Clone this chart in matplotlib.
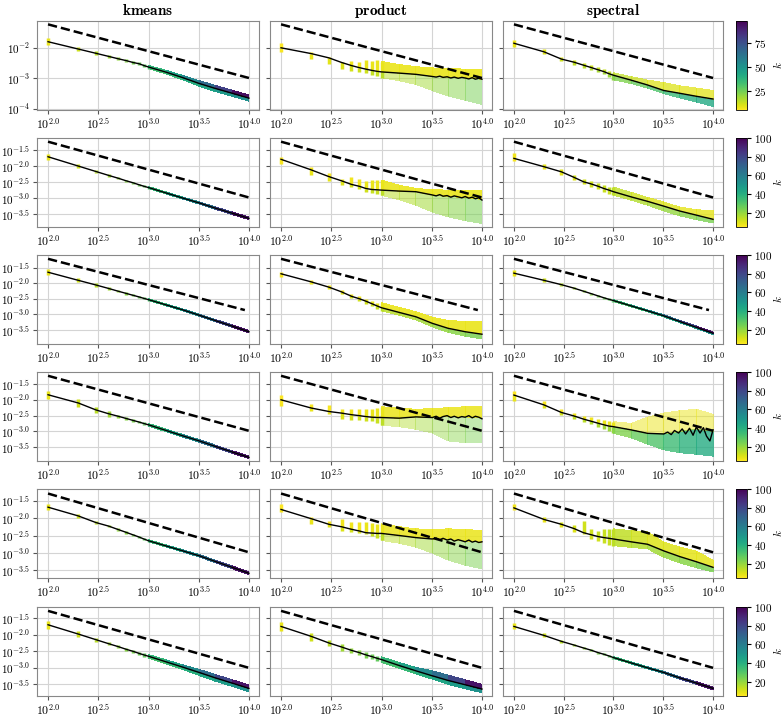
import numpy as np
import matplotlib
matplotlib.use('Agg')
import matplotlib.pyplot as plt
from matplotlib.collections import LineCollection, PolyCollection
from matplotlib.colors import Normalize
from matplotlib.cm import ScalarMappable
from matplotlib.ticker import FuncFormatter

plt.rcParams['mathtext.fontset'] = 'cm'

# Data (log10 of the error)
methods = ['kmeans', 'product', 'spectral']
n_vals = [100, 200, 300, 400, 500, 600, 700, 800, 900, 1000, 1500, 2200, 3200, 4600, 6800, 10000]
n_tail = [3200, 3500, 3800, 4100, 4500, 4900, 5300, 5800, 6300, 6800, 7400, 8000, 8600, 9300, 10000]

# colour (k) profiles along n
K_SQRT = [8, 12, 15, 18, 20, 22, 24, 26, 28, 30, 37, 45, 55, 66, 80, 95]
K_SQRT_LO = [8, 12, 15, 18, 20, 22, 24, 26, 28, 30, 33, 36, 40, 44, 48, 52]
K_YELLOW = [5, 6, 6, 7, 7, 7, 8, 8, 8, 8, 8, 8, 8, 8, 8, 8]
K_PROD_LO = [6, 8, 9, 10, 11, 12, 12, 13, 13, 14, 15, 16, 18, 20, 22, 24]
K_SPEC_HI = [7, 9, 10, 11, 12, 12, 13, 13, 14, 14, 14, 12, 10, 10, 9, 9]
K_SPEC_LO = [8, 10, 12, 14, 15, 16, 17, 18, 19, 20, 23, 27, 31, 35, 39, 42]

# half-width of the narrow clouds
SPREAD_TIGHT = [0.09, 0.06, 0.05, 0.04, 0.035, 0.035, 0.03, 0.03, 0.03, 0.03, 0.03, 0.03, 0.035, 0.035, 0.04, 0.04]
SPREAD_WIDE = [0.12, 0.08, 0.06, 0.05, 0.05, 0.05, 0.05, 0.05, 0.05, 0.05, 0.06, 0.07, 0.09, 0.10, 0.10, 0.10]
SPREAD_R4 = [0.12, 0.13, 0.10, 0.09, 0.05, 0.05, 0.04, 0.04, 0.04, 0.04, 0.04, 0.04, 0.04, 0.04, 0.04, 0.04]

# row 1
r1_kmeans_mid = [-1.80, -2.04, -2.18, -2.28, -2.36, -2.42, -2.48, -2.52, -2.58, -2.63, -2.80, -2.98, -3.17, -3.33, -3.49, -3.65]
r1_product_mid = [-2.00, -2.19, -2.33, -2.48, -2.58, -2.65, -2.70, -2.74, -2.77, -2.79, -2.83, -2.87, -2.94, -2.97, -2.99, -3.03]
r1_product_hi = [-1.85, -2.13, -2.30, -2.45, -2.44, -2.48, -2.41, -2.42, -2.40, -2.45, -2.55, -2.62, -2.66, -2.68, -2.70, -2.70]
r1_product_lo = [-2.13, -2.38, -2.52, -2.70, -2.76, -2.80, -2.82, -2.88, -2.93, -2.98, -3.08, -3.20, -3.40, -3.58, -3.72, -3.86]
r1_product_tail = [-2.94, -2.96, -2.93, -2.97, -2.95, -2.99, -2.96, -3.00, -2.97, -2.99, -3.02, -2.98, -3.03, -3.00, -3.03]
r1_spectral_mid = [-1.85, -2.13, -2.37, -2.47, -2.57, -2.65, -2.72, -2.78, -2.85, -2.90, -3.06, -3.22, -3.40, -3.49, -3.59, -3.68]
r1_spectral_hi = [-1.75, -2.05, -2.29, -2.39, -2.49, -2.57, -2.64, -2.70, -2.77, -2.82, -2.95, -3.06, -3.14, -3.25, -3.32, -3.40]
r1_spectral_lo = [-1.96, -2.20, -2.44, -2.55, -2.65, -2.73, -2.80, -2.87, -2.95, -3.05, -3.17, -3.32, -3.50, -3.64, -3.78, -3.92]

# row 2
r2_kmeans_mid = [-1.71, -2.00, -2.17, -2.29, -2.38, -2.46, -2.52, -2.58, -2.63, -2.67, -2.84, -3.00, -3.15, -3.31, -3.47, -3.63]
r2_product_mid = [-1.79, -2.12, -2.33, -2.46, -2.57, -2.63, -2.70, -2.73, -2.74, -2.75, -2.78, -2.80, -2.90, -2.95, -2.98, -3.04]
r2_product_hi = [-1.71, -2.02, -2.23, -2.39, -2.35, -2.40, -2.47, -2.45, -2.44, -2.44, -2.60, -2.70, -2.74, -2.75, -2.75, -2.75]
r2_product_lo = [-1.95, -2.28, -2.46, -2.60, -2.65, -2.72, -2.80, -2.85, -2.88, -2.91, -3.05, -3.22, -3.43, -3.58, -3.70, -3.79]
r2_product_tail = [-2.90, -2.93, -2.89, -2.94, -2.92, -2.97, -2.93, -2.96, -2.99, -2.95, -3.00, -2.97, -3.02, -2.99, -3.06]
r2_spectral_mid = [-1.76, -2.02, -2.18, -2.35, -2.49, -2.56, -2.63, -2.70, -2.75, -2.80, -2.96, -3.10, -3.25, -3.40, -3.53, -3.66]
r2_spectral_hi = [-1.60, -1.95, -2.10, -2.27, -2.40, -2.47, -2.54, -2.60, -2.64, -2.66, -2.82, -2.98, -3.12, -3.28, -3.36, -3.40]
r2_spectral_lo = [-1.83, -2.09, -2.27, -2.43, -2.57, -2.64, -2.72, -2.80, -2.86, -2.91, -3.06, -3.22, -3.40, -3.55, -3.67, -3.77]

# row 3
r3_kmeans_mid = [-1.65, -1.91, -2.06, -2.17, -2.26, -2.33, -2.39, -2.44, -2.49, -2.53, -2.70, -2.86, -3.03, -3.20, -3.38, -3.56]
r3_product_mid = [-1.70, -1.96, -2.13, -2.28, -2.42, -2.50, -2.58, -2.66, -2.73, -2.79, -2.94, -3.08, -3.29, -3.45, -3.56, -3.64]
r3_product_hi = [-1.63, -1.90, -2.07, -2.21, -2.34, -2.42, -2.50, -2.57, -2.63, -2.63, -2.78, -2.92, -3.10, -3.20, -3.23, -3.24]
r3_product_lo = [-1.79, -2.02, -2.19, -2.35, -2.49, -2.58, -2.66, -2.74, -2.82, -2.89, -3.03, -3.18, -3.40, -3.58, -3.70, -3.79]
r3_spectral_mid = [-1.68, -1.91, -2.05, -2.16, -2.26, -2.34, -2.41, -2.47, -2.52, -2.56, -2.73, -2.89, -3.05, -3.23, -3.42, -3.61]

# row 4
r4_kmeans_mid = [-1.84, -2.10, -2.32, -2.44, -2.52, -2.59, -2.65, -2.70, -2.75, -2.79, -2.97, -3.14, -3.30, -3.47, -3.65, -3.82]
r4_product_mid = [-2.00, -2.26, -2.37, -2.42, -2.47, -2.50, -2.53, -2.55, -2.56, -2.56, -2.58, -2.54, -2.56, -2.52, -2.54, -2.57]
r4_product_hi = [-1.84, -2.14, -2.17, -2.30, -2.30, -2.30, -2.30, -2.28, -2.25, -2.22, -2.26, -2.30, -2.28, -2.25, -2.22, -2.20]
r4_product_lo = [-2.19, -2.35, -2.45, -2.62, -2.64, -2.65, -2.66, -2.68, -2.72, -2.80, -2.85, -2.93, -3.05, -3.30, -3.35, -3.35]
r4_product_tail = [-2.56, -2.52, -2.58, -2.53, -2.50, -2.56, -2.52, -2.57, -2.53, -2.55, -2.50, -2.57, -2.52, -2.55, -2.60]
r4_spectral_mid = [-1.85, -2.16, -2.40, -2.51, -2.61, -2.68, -2.74, -2.79, -2.83, -2.85, -2.95, -3.06, -3.08, -3.00, -2.92, -3.00]
r4_spectral_hi = [-1.73, -2.05, -2.30, -2.42, -2.50, -2.55, -2.60, -2.63, -2.66, -2.69, -2.75, -2.55, -2.42, -2.35, -2.30, -2.46]
r4_spectral_lo = [-2.05, -2.25, -2.48, -2.60, -2.70, -2.78, -2.85, -2.92, -2.98, -3.06, -3.20, -3.40, -3.58, -3.67, -3.72, -3.78]
r4_spectral_tail = [-3.08, -3.02, -3.10, -2.97, -3.05, -2.92, -3.08, -2.90, -3.12, -2.86, -3.05, -2.88, -3.15, -3.30, -2.95]

# row 5
r5_kmeans_mid = [-1.69, -1.94, -2.13, -2.23, -2.33, -2.41, -2.48, -2.54, -2.60, -2.65, -2.80, -2.94, -3.08, -3.24, -3.41, -3.58]
r5_product_mid = [-1.755, -2.02, -2.18, -2.25, -2.32, -2.37, -2.42, -2.43, -2.44, -2.44, -2.50, -2.56, -2.60, -2.62, -2.65, -2.70]
r5_product_hi = [-1.61, -1.96, -2.08, -2.04, -2.12, -2.12, -2.12, -2.14, -2.16, -2.17, -2.25, -2.31, -2.33, -2.31, -2.33, -2.36]
r5_product_lo = [-1.83, -2.16, -2.27, -2.36, -2.41, -2.44, -2.46, -2.52, -2.58, -2.64, -2.72, -2.83, -3.00, -3.20, -3.35, -3.45]
r5_product_tail = [-2.60, -2.57, -2.62, -2.58, -2.63, -2.60, -2.66, -2.62, -2.65, -2.68, -2.63, -2.69, -2.66, -2.70, -2.68]
r5_spectral_mid = [-1.71, -2.04, -2.18, -2.30, -2.42, -2.48, -2.53, -2.56, -2.58, -2.60, -2.68, -2.75, -2.94, -3.10, -3.25, -3.41]
r5_spectral_hi = [-1.61, -1.96, -2.10, -2.20, -2.08, -2.30, -2.36, -2.30, -2.32, -2.31, -2.36, -2.40, -2.69, -2.83, -2.95, -3.21]
r5_spectral_lo = [-1.78, -2.12, -2.26, -2.40, -2.46, -2.60, -2.66, -2.72, -2.76, -2.79, -2.84, -2.88, -3.12, -3.28, -3.42, -3.54]

# row 6
r6_kmeans_mid = [-1.70, -1.98, -2.15, -2.27, -2.36, -2.44, -2.50, -2.56, -2.61, -2.65, -2.82, -2.98, -3.14, -3.30, -3.46, -3.62]
r6_product_mid = [-1.75, -2.05, -2.25, -2.37, -2.47, -2.54, -2.61, -2.66, -2.71, -2.75, -2.93, -3.09, -3.24, -3.38, -3.51, -3.64]
r6_product_hi = [-1.61, -1.95, -2.15, -2.27, -2.39, -2.46, -2.53, -2.58, -2.63, -2.67, -2.84, -2.99, -3.09, -3.22, -3.36, -3.50]
r6_product_lo = [-1.88, -2.20, -2.33, -2.50, -2.55, -2.62, -2.69, -2.74, -2.79, -2.83, -3.01, -3.18, -3.34, -3.50, -3.63, -3.75]
r6_spectral_mid = [-1.75, -2.02, -2.20, -2.31, -2.40, -2.47, -2.54, -2.59, -2.64, -2.69, -2.85, -3.00, -3.14, -3.30, -3.46, -3.62]

# dashed reference line per row: start value at n=100, end value and end n
ref_start = [-1.23, -1.24, -1.22, -1.24, -1.30, -1.28]
ref_end = [-2.99, -2.98, -2.865, -2.98, -2.98, -3.00]
ref_end_n = [10000, 10000, 9100, 10000, 10000, 10000]

k_max = [98, 100, 100, 100, 100, 100]
k_ticks = [[25, 50, 75], [20, 40, 60, 80, 100], [20, 40, 60, 80, 100],
           [20, 40, 60, 80, 100], [20, 40, 60, 80, 100], [20, 40, 60, 80, 100]]


def tight(mid, spread):
    return ([m + s for m, s in zip(mid, spread)], [m - s for m, s in zip(mid, spread)])


# (mid, hi, lo, k_hi, k_lo, tail)
panels = {}
panels[0, 0] = (r1_kmeans_mid, *tight(r1_kmeans_mid, SPREAD_WIDE), K_SQRT, K_SQRT_LO, None)
panels[0, 1] = (r1_product_mid, r1_product_hi, r1_product_lo, K_YELLOW, K_PROD_LO, r1_product_tail)
panels[0, 2] = (r1_spectral_mid, r1_spectral_hi, r1_spectral_lo, K_SPEC_HI, K_SPEC_LO, None)
panels[1, 0] = (r2_kmeans_mid, *tight(r2_kmeans_mid, SPREAD_TIGHT), K_SQRT, K_SQRT, None)
panels[1, 1] = (r2_product_mid, r2_product_hi, r2_product_lo, K_YELLOW, K_PROD_LO, r2_product_tail)
panels[1, 2] = (r2_spectral_mid, r2_spectral_hi, r2_spectral_lo, K_SPEC_HI, K_PROD_LO, None)
panels[2, 0] = (r3_kmeans_mid, *tight(r3_kmeans_mid, SPREAD_TIGHT), K_SQRT, K_SQRT, None)
panels[2, 1] = (r3_product_mid, r3_product_hi, r3_product_lo, K_YELLOW, K_PROD_LO, None)
panels[2, 2] = (r3_spectral_mid, *tight(r3_spectral_mid, SPREAD_TIGHT), K_SQRT, K_SQRT_LO, None)
panels[3, 0] = (r4_kmeans_mid, *tight(r4_kmeans_mid, SPREAD_R4), K_SQRT, K_SQRT, None)
panels[3, 1] = (r4_product_mid, r4_product_hi, r4_product_lo, K_YELLOW, K_PROD_LO, r4_product_tail)
panels[3, 2] = (r4_spectral_mid, r4_spectral_hi, r4_spectral_lo, K_YELLOW, K_SPEC_LO, r4_spectral_tail)
panels[4, 0] = (r5_kmeans_mid, *tight(r5_kmeans_mid, SPREAD_TIGHT), K_SQRT, K_SQRT, None)
panels[4, 1] = (r5_product_mid, r5_product_hi, r5_product_lo, K_YELLOW, K_PROD_LO, r5_product_tail)
panels[4, 2] = (r5_spectral_mid, r5_spectral_hi, r5_spectral_lo, K_SPEC_HI, K_PROD_LO, None)
panels[5, 0] = (r6_kmeans_mid, *tight(r6_kmeans_mid, SPREAD_WIDE), K_SQRT, K_SQRT_LO, None)
panels[5, 1] = (r6_product_mid, r6_product_hi, r6_product_lo, K_SQRT, K_SQRT_LO, None)
panels[5, 2] = (r6_spectral_mid, *tight(r6_spectral_mid, SPREAD_TIGHT), K_SQRT, K_SQRT, None)

# cloud opacity (upper part, lower part) for the sparse clouds
cloud_alpha = {(0, 1): (0.9, 0.5), (0, 2): (0.75, 0.8), (1, 1): (0.9, 0.55), (1, 2): (0.8, 0.8),
               (2, 1): (0.9, 0.85), (3, 1): (0.85, 0.45), (3, 2): (0.5, 0.8),
               (4, 1): (0.85, 0.5), (4, 2): (0.85, 0.85)}

# Layout (pixels)
W, H = 783, 719
col_left = [37, 270, 503]
col_w = [222, 222, 220]
row_top = [21, 138, 255, 372, 489, 607]
row_h = 89
ylims = [(-4.04, -1.12), (-3.90, -1.125), (-3.954, -1.097), (-3.935, -1.12), (-3.715, -1.17), (-3.85, -1.163)]


def box(l, t, w, h):
    return [l / W, 1 - (t + h) / H, w / W, h / H]


cmap = plt.get_cmap('viridis_r')
fig = plt.figure(figsize=(W / 100, H / 100), dpi=100)
x = np.log10(n_vals)
xt = np.log10(n_tail)
n_dash = 10

for r in range(6):
    norm = Normalize(vmin=5, vmax=k_max[r])
    for c in range(3):
        mid, hi, lo, khi, klo, tail = panels[r, c]
        a_hi, a_lo = cloud_alpha.get((r, c), (1.0, 1.0))
        ax = fig.add_axes(box(col_left[c], row_top[r], col_w[c], row_h))
        ax.grid(True, color='#d4d4d4', lw=0.8)
        ax.set_axisbelow(True)

        # discrete clouds at small n
        segs, ks = [], []
        for i in range(n_dash):
            segs.append([(x[i], lo[i]), (x[i], mid[i])])
            ks.append(klo[i])
            segs.append([(x[i], mid[i]), (x[i], hi[i])])
            ks.append(khi[i])
        ax.add_collection(LineCollection(segs, array=np.array(ks, float), cmap=cmap, norm=norm,
                                         linewidths=2.5, zorder=2))
        # dense cloud at large n
        for edge, kk, alpha in ((lo, klo, a_lo), (hi, khi, a_hi)):
            polys, kp = [], []
            for i in range(n_dash - 1, len(x) - 1):
                polys.append([(x[i], edge[i]), (x[i + 1], edge[i + 1]), (x[i + 1], mid[i + 1]), (x[i], mid[i])])
                kp.append(kk[i + 1])
            ax.add_collection(PolyCollection(polys, array=np.array(kp, float), cmap=cmap, norm=norm,
                                             edgecolors='none', linewidths=0, antialiaseds=False,
                                             alpha=alpha, zorder=2))

        if tail is None:
            ax.plot(x, mid, color='k', lw=1.0, zorder=3)
        else:
            ax.plot(list(x[:12]) + list(xt), list(mid[:12]) + list(tail), color='k', lw=1.0, zorder=3)
        ax.plot(np.log10([100, ref_end_n[r]]), [ref_start[r], ref_end[r]], color='k',
                ls='--', lw=1.8, zorder=3)

        ax.set_xlim(1.89, 4.1)
        ax.set_ylim(*ylims[r])
        ax.set_xticks([2.0, 2.5, 3.0, 3.5, 4.0])
        ax.xaxis.set_major_formatter(FuncFormatter(lambda v, p: r'$10^{%.1f}$' % v))
        if r == 0:
            ax.set_yticks([-4, -3, -2])
            ax.yaxis.set_major_formatter(FuncFormatter(lambda v, p: r'$10^{%d}$' % round(v)))
        else:
            ax.set_yticks([-3.5, -3.0, -2.5, -2.0, -1.5])
            ax.yaxis.set_major_formatter(FuncFormatter(lambda v, p: r'$10^{%.1f}$' % v))
        ax.tick_params(labelsize=8.5, length=3, pad=2, color='#555555')
        ax.tick_params(axis='y', labelsize=8)
        if c > 0:
            ax.tick_params(labelleft=False)
        for sp in ax.spines.values():
            sp.set_color('#888888')
        if r == 0:
            ax.set_title(r'$\mathbf{%s}$' % methods[c], fontsize=11, pad=4)

    cax = fig.add_axes(box(736, row_top[r], 11, row_h))
    cb = fig.colorbar(ScalarMappable(norm=norm, cmap=cmap), cax=cax)
    cb.set_ticks(k_ticks[r])
    cb.set_ticklabels([r'$%d$' % t for t in k_ticks[r]])
    cb.ax.tick_params(labelsize=8, length=3, pad=2)
    cb.outline.set_linewidth(0.6)
    cb.set_label(r'$k$', fontsize=8)
    cb.ax.yaxis.set_label_coords(3.15, 0.5)

fig.savefig('out.png', dpi=100)
